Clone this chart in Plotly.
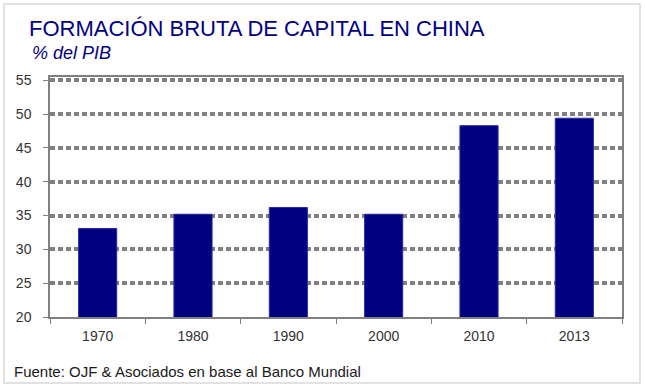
import plotly.graph_objects as go

years = ["1970", "1980", "1990", "2000", "2010", "2013"]
values = [33.1, 35.2, 36.2, 35.2, 48.3, 49.4]
y_ticks = [20, 25, 30, 35, 40, 45, 50, 55]

fig = go.Figure()
fig.add_trace(go.Bar(
    x=years, y=values,
    marker=dict(color="#000080", line=dict(color="#2a2aa0", width=1)),
    width=0.4,
))

axis_font = dict(family="Liberation Sans, Arial, sans-serif", size=14, color="#333333")

L, R, T, B = 50, 622, 77, 317
W, H = R - L, B - T

def px(x):
    return (x - L) / W

def py(y):
    return (B - y) / H

fig.update_layout(
    width=645, height=387,
    margin=dict(l=L, r=645 - R, t=T, b=387 - B),
    paper_bgcolor="white", plot_bgcolor="white",
    showlegend=False,
    xaxis=dict(
        type="category", showline=True, linecolor="#808080", linewidth=1.5,
        mirror=True, ticks="outside", tickson="boundaries", ticklen=5,
        tickcolor="#808080", showgrid=False, tickfont=axis_font,
        ticklabelstandoff=5,
    ),
    yaxis=dict(
        range=[20, 55.5], tickvals=y_ticks, showline=True, linecolor="#808080",
        linewidth=1.5, mirror=True, ticks="outside", ticklen=5, tickcolor="#808080",
        showgrid=True, gridcolor="#808080", gridwidth=4, griddash="5px,3px",
        tickfont=axis_font, ticklabelstandoff=9, zeroline=False,
    ),
    shapes=[dict(type="rect", xref="paper", yref="paper",
                 x0=px(4), x1=px(640), y0=py(383), y1=py(4),
                 line=dict(color="#d9d9d9", width=1.5), layer="below")],
    annotations=[
        dict(text="FORMACIÓN BRUTA DE CAPITAL EN CHINA", xref="paper", yref="paper",
             x=px(27), y=py(43), xanchor="left", yanchor="bottom",
             showarrow=False,
             font=dict(family="Liberation Sans, Arial, sans-serif", size=22, color="#000080")),
        dict(text="<i>% del PIB</i>", xref="paper", yref="paper",
             x=px(30), y=py(65), xanchor="left", yanchor="bottom",
             showarrow=False,
             font=dict(family="Liberation Sans, Arial, sans-serif", size=18, color="#000080")),
        dict(text="Fuente: OJF &amp; Asociados en base al Banco Mundial", xref="paper", yref="paper",
             x=px(12), y=py(382), xanchor="left", yanchor="bottom",
             showarrow=False,
             font=dict(family="Liberation Sans, Arial, sans-serif", size=15, color="#1a1a1a")),
    ],
)

fig.write_html("out.html", config={"displayModeBar": False},
               post_script="document.body.style.margin='0';")
